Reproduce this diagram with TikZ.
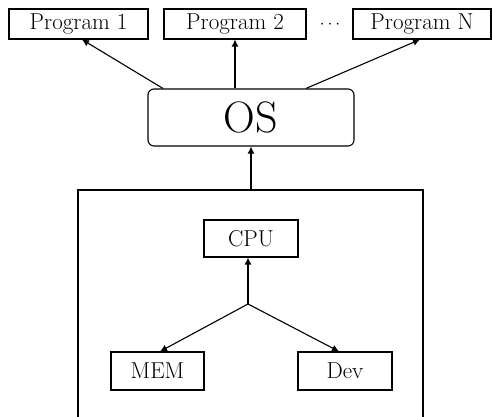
\documentclass[tikz,border=0pt]{standalone}
\usetikzlibrary{arrows.meta}
\begin{document}
\begin{tikzpicture}[x=1pt,y=-1pt,
  box/.style={draw,line width=1.1pt,inner sep=0pt,font=\fontsize{23}{25}\selectfont},
  arr/.style={line width=1.1pt,-{Latex[length=7pt,width=7pt]}}]
  \useasboundingbox (0,0) rectangle (493,417);
  % programs on top
  \node[box,minimum width=139,minimum height=30] (p1) at (78.5,24) {Program 1};
  \node[box,minimum width=142,minimum height=30] (p2) at (235,24) {Program 2};
  \node[box,minimum width=138,minimum height=30] (pn) at (422,24) {Program N};
  \node[font=\fontsize{19}{21}\selectfont] (dots) at (330,25) {$\cdots$};
  % operating system
  \node[box,rounded corners=6pt,minimum width=206,minimum height=57,font=\fontsize{44}{48}\selectfont] (os) at (251,117.5) {OS};
  % hardware
  \node[draw,line width=1.1pt,minimum width=345,minimum height=260] (hw) at (250.5,320) {};
  \node[box,minimum width=94,minimum height=37] (cpu) at (251,238.5) {CPU};
  \node[box,minimum width=93,minimum height=38] (mem) at (157.5,371) {MEM};
  \node[box,minimum width=94,minimum height=38] (dev) at (345,371) {Dev};
  \coordinate (j) at (248,304);
  % connectors
  \draw[arr] ([xshift=-88]os.north) -- ([xshift=3.5]p1.south);
  \draw[arr] (os.north -| p2.south) -- (p2.south);
  \draw[arr] ([xshift=55]os.north) -- ([xshift=-2]pn.south);
  \draw[arr] (hw.north -| os.south) -- (os.south);
  \draw[arr] (j) -- (j |- cpu.south);
  \draw[arr] (j) -- ([xshift=2.5]mem.north);
  \draw[arr] (j) -- ([xshift=-6]dev.north);
\end{tikzpicture}
\end{document}
